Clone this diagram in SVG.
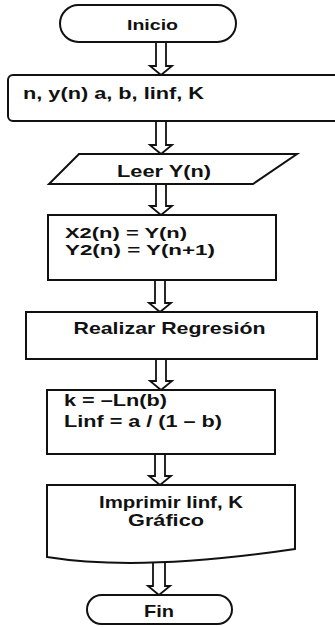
<svg xmlns="http://www.w3.org/2000/svg" width="335" height="627" viewBox="0 0 335 627">
<style>
.s{fill:#fff;stroke:#111;stroke-width:2;stroke-linejoin:miter}
.a{fill:#fff;stroke:#111;stroke-width:1.8;stroke-linejoin:miter}
.t{font-family:"Liberation Sans",Arial,sans-serif;font-weight:bold;font-size:16.5px;fill:#111}
.c{text-anchor:middle}
</style>
<rect width="335" height="627" fill="#fff"/>
<g id="connectors">
<path class="a" d="M156,42 V66 H150 L161,75 L172,66 H166 V42"/>
<path class="a" d="M156,121 V145 H150 L161,154 L172,145 H166 V121"/>
<path class="a" d="M156,184 V206 H150 L161,215 L172,206 H166 V184"/>
<path class="a" d="M155,280 V303 H149 L160,312 L171,303 H165 V280"/>
<path class="a" d="M156,359 V381 H150 L161,390 L172,381 H166 V359"/>
<path class="a" d="M155,454 V476 H149 L160,485 L171,476 H165 V454"/>
<path class="a" d="M153,563 V586 H148 L159,595 L170,586 H165 V563"/>
</g>
<g id="inicio">
<rect class="s" x="60" y="5" width="176" height="37" rx="18.5"/>
<text class="t c" x="152.5" y="29.5" style="font-size:15px" textLength="51" lengthAdjust="spacingAndGlyphs">Inicio</text>
</g>
<g id="datos">
<rect class="s" x="8" y="75" width="345" height="46" rx="5"/>
<text class="t" x="23" y="99" textLength="181" lengthAdjust="spacingAndGlyphs">n, y(n) a, b, linf, K</text>
</g>
<g id="leer">
<polygon class="s" points="79,154 297,154 253,184 49,184"/>
<text class="t c" x="164" y="176.5" textLength="94" lengthAdjust="spacingAndGlyphs">Leer Y(n)</text>
</g>
<g id="asignar">
<rect class="s" x="48" y="215" width="228" height="65"/>
<text class="t" x="65" y="238" style="font-size:15px" textLength="122" lengthAdjust="spacingAndGlyphs">X2(n) = Y(n)</text>
<text class="t" x="65" y="254.5" style="font-size:15px" textLength="150" lengthAdjust="spacingAndGlyphs">Y2(n) = Y(n+1)</text>
</g>
<g id="regresion">
<rect class="s" x="26" y="312" width="291" height="47"/>
<text class="t c" x="169.5" y="334" textLength="192" lengthAdjust="spacingAndGlyphs">Realizar Regresión</text>
</g>
<g id="calculo">
<rect class="s" x="47" y="390" width="228" height="64"/>
<text class="t" x="64" y="405.5" textLength="103" lengthAdjust="spacingAndGlyphs">k = –Ln(b)</text>
<text class="t" x="64" y="426.5" textLength="158" lengthAdjust="spacingAndGlyphs">Linf = a / (1 – b)</text>
</g>
<g id="imprimir">
<path class="s" d="M47,485 H295 V549 Q140,572 47,557 Z"/>
<text class="t c" x="171" y="508" textLength="144" lengthAdjust="spacingAndGlyphs">Imprimir linf, K</text>
<text class="t c" x="166" y="525.5" textLength="76" lengthAdjust="spacingAndGlyphs">Gráfico</text>
</g>
<g id="fin">
<rect class="s" x="87" y="595" width="145" height="29" rx="14.5"/>
<text class="t c" x="159" y="616.5" textLength="30" lengthAdjust="spacingAndGlyphs">Fin</text>
</g>
</svg>
